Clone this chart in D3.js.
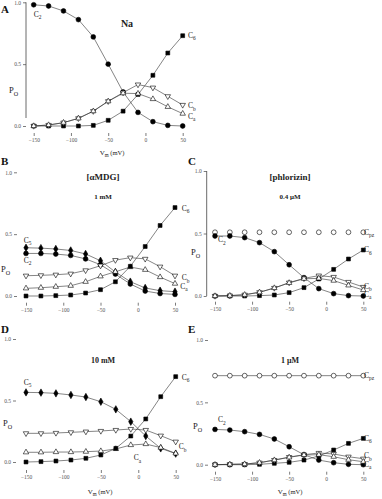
<!DOCTYPE html>
<html><head><meta charset="utf-8">
<script src="https://cdn.jsdelivr.net/npm/d3@7"></script>
<style>
html,body{margin:0;padding:0;background:#fff;}
svg{display:block;font-family:"Liberation Serif","DejaVu Serif",serif;}
</style></head>
<body><svg id="c" width="382" height="499"></svg>
<script>
// ---- data ----
const V = [-150,-130,-110,-90,-70,-50,-30,-10,10,30,50];
const xTicks = [-150,-100,-50,0,50];
const yTicks = [0,0.5,1.0];
const yTickLabels = ["0.0","0.5","1.0"];

// A: Na
const naC2 = [0.98,0.97,0.93,0.86,0.72,0.50,0.275,0.11,0.035,0.005,0.0];
const naC6 = [0,0,0,0,0.005,0.046,0.12,0.255,0.41,0.59,0.73];
const naCb = [0,0.008,0.027,0.062,0.12,0.2,0.27,0.335,0.31,0.24,0.17];
const naCa = [0,0.008,0.027,0.062,0.12,0.2,0.265,0.262,0.218,0.155,0.1];
// B: aMDG 1 mM
const m1C5 = [0.39,0.387,0.38,0.368,0.34,0.285,0.194,0.116,0.065,0.043,0.035];
const m1C2 = [0.344,0.344,0.339,0.328,0.30,0.253,0.177,0.097,0.04,0.02,0.013];
const m1Cb = [0.164,0.167,0.172,0.18,0.207,0.245,0.29,0.31,0.30,0.237,0.164];
const m1Ca = [0.062,0.067,0.075,0.083,0.115,0.159,0.196,0.234,0.212,0.153,0.1];
const m1C6 = [0,0,0.003,0.008,0.024,0.051,0.115,0.24,0.40,0.57,0.715];
// C: phlorizin 0.4 uM
const p4Cpz = [0.51,0.51,0.51,0.51,0.51,0.51,0.51,0.51,0.51,0.51,0.51];
const p4C2 = [0.48,0.48,0.467,0.427,0.355,0.25,0.147,0.059,0.019,0.003,0];
const p4C6 = [0,0,0,0.003,0.008,0.027,0.067,0.136,0.213,0.296,0.368];
const p4Cb = [0,0.003,0.01,0.03,0.064,0.107,0.141,0.163,0.152,0.112,0.072];
const p4Ca = [0,0.003,0.01,0.03,0.064,0.105,0.138,0.141,0.123,0.085,0.048];
// D: aMDG 10 mM
const m10C5 = [0.566,0.564,0.558,0.545,0.528,0.49,0.428,0.328,0.211,0.111,0.068];
const m10Cb = [0.233,0.233,0.236,0.241,0.247,0.252,0.26,0.268,0.26,0.214,0.165];
const m10Ca = [0.079,0.079,0.081,0.081,0.084,0.089,0.106,0.138,0.146,0.117,0.07];
const m10C6 = [0,0.003,0.008,0.016,0.03,0.057,0.111,0.211,0.35,0.531,0.694];
// E: phlorizin 1 uM
const p1Cpz = [0.714,0.714,0.714,0.714,0.714,0.714,0.714,0.714,0.714,0.714,0.714];
const p1C2 = [0.283,0.278,0.265,0.243,0.206,0.144,0.08,0.037,0.016,0.003,0];
const p1C6 = [0,0,0,0.003,0.011,0.019,0.037,0.07,0.118,0.171,0.211];
const p1Cb = [0,0.003,0.005,0.016,0.037,0.061,0.08,0.094,0.086,0.064,0.048];
const p1Ca = [0,0.003,0.005,0.016,0.037,0.059,0.078,0.08,0.064,0.04,0.024];

// ---- drawing ----
const svg = d3.select("#c");
const lineCol = "#333";

const panels = [
 {letter:"A", lp:[1,13], x:[33.7,182.7], y:[126,2.3], axisX:26, axisLine:true, axisLineEnd:118,
  tOff:7, lOff:17, po:[9,93], vm:[112,155],
  titles:[{t:"Na",x:127,y:27,s:10}],
  series:[{d:naC2,m:"circle"},{d:naC6,m:"square"},{d:naCb,m:"down"},{d:naCa,m:"up"}],
  labels:[["C","2",-150,0.9],["C","6",57,0.735],["C","b",57,0.162],["C","a",57,0.08]]},
 {letter:"B", lp:[1,165], x:[26,175], y:[296,172.3], axisX:17, axisLine:false,
  tOff:6.7, lOff:15.5, po:[1,272],
  titles:[{t:"[\u03b1MDG]",x:103,y:180,s:9},{t:"1 mM",x:103,y:199,s:7}],
  series:[{d:m1C5,m:"diamond"},{d:m1C2,m:"circle"},{d:m1Cb,m:"down"},{d:m1Ca,m:"up"},{d:m1C6,m:"square"}],
  labels:[["C","5",-153,0.45],["C","2",-153,0.29],["C","6",59,0.71],["C","b",59,0.146],["C","a",57,0.08]]},
 {letter:"C", lp:[188,165], x:[215,363.3], y:[296,171], axisX:206.7, axisLine:true, axisLineEnd:296,
  tOff:5.7, lOff:12.3, po:[191,255],
  titles:[{t:"[phlorizin]",x:290,y:180,s:9},{t:"0.4 \u03bcM",x:290,y:199,s:7}],
  series:[{d:p4Cpz,m:"ocircle",noLine:true},{d:p4C2,m:"circle"},{d:p4C6,m:"square"},{d:p4Cb,m:"down"},{d:p4Ca,m:"up"}],
  labels:[["C","pz",51,0.51],["C","2",-146,0.45],["C","6",51,0.37],["C","b",51,0.08],["C","a",51,0.016]]},
 {letter:"D", lp:[1,333], x:[26,175.7], y:[462,339], axisX:16, axisLine:false,
  tOff:8, lOff:18, po:[3,426], vm:[100,494],
  titles:[{t:"10 mM",x:103,y:363,s:8}],
  series:[{d:m10C5,m:"diamond"},{d:m10Cb,m:"down"},{d:m10Ca,m:"up"},{d:m10C6,m:"square"}],
  labels:[["C","5",-153,0.65],["C","6",58,0.69],["C","b",54,0.122],["C","a",-6,0.033]]},
 {letter:"E", lp:[188,333], x:[215,363.3], y:[464.7,340], axisX:208, axisLine:false,
  tOff:7, lOff:15.5, po:[193,429], vm:[290,494],
  titles:[{t:"1 \u03bcM",x:290,y:363,s:8}],
  series:[{d:p1Cpz,m:"ocircle"},{d:p1C2,m:"circle"},{d:p1C6,m:"square"},{d:p1Cb,m:"down"},{d:p1Ca,m:"up"}],
  labels:[["C","pz",51,0.714],["C","2",-146,0.36],["C","6",51,0.214],["C","b",51,0.07],["C","a",51,0.005]]}
];

function marker(g, type, px, py){
  let sym, size, fill, rot=0;
  switch(type){
    case "circle": sym=d3.symbolCircle; size=18; fill="#000"; break;
    case "ocircle": sym=d3.symbolCircle; size=18; fill="#fff"; break;
    case "square": sym=d3.symbolSquare; size=15; fill="#000"; break;
    case "up": sym=d3.symbolTriangle; size=13; fill="#fff"; break;
    case "down": sym=d3.symbolTriangle; size=13; fill="#fff"; rot=180; break;
    case "diamond": sym=d3.symbolDiamond; size=16; fill="#000"; break;
  }
  g.append("path").attr("d", d3.symbol().type(sym).size(size)())
   .attr("transform",`translate(${px},${py}) rotate(${rot})`)
   .attr("fill",fill).attr("stroke","#000").attr("stroke-width",0.6);
}

function subText(g, x, y, main, sub, size, anchor){
  const t = g.append("text").attr("x",x).attr("y",y).attr("font-size",size)
    .attr("text-anchor",anchor||"start").attr("fill","#222");
  t.append("tspan").text(main);
  t.append("tspan").attr("font-size",size*0.72).attr("dy",size*0.3).text(sub);
  return t;
}

panels.forEach(p=>{
  const xs = d3.scaleLinear().domain([-150,50]).range(p.x);
  const ys = d3.scaleLinear().domain([0,1]).range(p.y);
  const g = svg.append("g");

  // panel letter
  g.append("text").attr("x",p.lp[0]).attr("y",p.lp[1]).attr("font-size",11)
   .attr("font-weight","bold").attr("fill","#111").text(p.letter);

  // y axis
  const ya = d3.axisLeft(ys).tickValues(yTicks).tickSize(3).tickPadding(2)
    .tickFormat((d,i)=>yTickLabels[i]);
  const yg = g.append("g").attr("transform",`translate(${p.axisX},0)`).call(ya);
  yg.select(".domain").remove();
  yg.selectAll("text").attr("font-size",5.5).attr("fill","#555").attr("font-family","Liberation Serif");
  yg.selectAll("line").attr("stroke","#444").attr("stroke-width",0.7);
  if(p.axisLine){
    g.append("line").attr("x1",p.axisX).attr("x2",p.axisX)
     .attr("y1",p.y[1]).attr("y2",p.axisLineEnd).attr("stroke","#444").attr("stroke-width",0.8);
  }

  // x axis (ticks only)
  const xa = d3.axisBottom(xs).tickValues(xTicks).tickSize(3).tickPadding(2.5);
  const xg = g.append("g").attr("transform",`translate(0,${p.y[0]+p.tOff})`).call(xa);
  xg.select(".domain").remove();
  xg.selectAll("text").attr("font-size",5.5).attr("fill","#555").attr("font-family","Liberation Serif");
  xg.selectAll("line").attr("stroke","#444").attr("stroke-width",0.7);

  // Po label
  subText(g, p.po[0], p.po[1], "P", "O", 8.5);
  if(p.vm) subText(g, p.vm[0], p.vm[1], "V", "m", 7, "middle").append("tspan")
     .attr("dy",-7*0.3).attr("font-size",6.5).text(" (mV)");

  // titles
  p.titles.forEach(t=>{
    g.append("text").attr("x",t.x).attr("y",t.y).attr("text-anchor","middle")
     .attr("font-size",t.s).attr("font-weight","bold").attr("fill","#222").text(t.t);
  });

  // series
  const line = d3.line().x((d,i)=>xs(V[i])).y(d=>ys(d));
  p.series.forEach(s=>{
    if(!s.noLine) g.append("path").attr("d",line(s.d)).attr("fill","none")
       .attr("stroke",lineCol).attr("stroke-width",0.6);
  });
  p.series.forEach(s=>{
    s.d.forEach((v,i)=>marker(g, s.m, xs(V[i]), ys(v)));
  });

  // series labels
  p.labels.forEach(l=>{
    subText(g, xs(l[2]), ys(l[3])+2.5, l[0], l[1], 7.5);
  });
});
</script></body></html>
